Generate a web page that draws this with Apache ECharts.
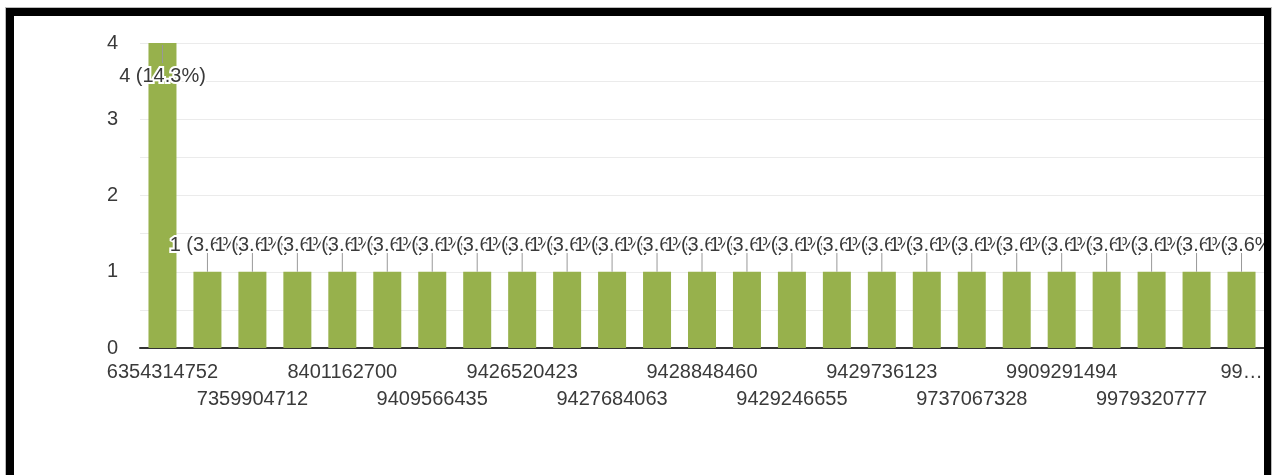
<!DOCTYPE html>
<html>
<head>
<meta charset="utf-8">
<script src="https://cdn.jsdelivr.net/npm/echarts@6/dist/echarts.min.js"></script>
<style>
  html, body { margin: 0; padding: 0; background: #fff; width: 1273px; height: 475px; overflow: hidden; }
  #frame {
    position: absolute; left: 6px; top: 8px; width: 1250px; height: 475px;
    border-left: 8px solid #000; border-top: 8px solid #000; border-right: 7px solid #000;
    box-shadow: -1px -1px 0 #bbb, 1px -1px 0 #bbb; background: #fff; overflow: hidden;
  }
  #chart { width: 1250px; height: 459px; }
</style>
</head>
<body>
<div id="frame"><div id="chart"></div></div>
<script>
// Category labels (only every other one is printed in the reference; hidden ones left blank)
const categories = [
  '6354314752', '', '7359904712', '', '8401162700', '', '9409566435', '',
  '9426520423', '', '9427684063', '', '9428848460', '', '9429246655', '',
  '9429736123', '', '9737067328', '', '9909291494', '', '9979320777', '',
  '99…'
];
// Response counts
const counts = [4, 1, 1, 1, 1, 1, 1, 1, 1, 1, 1, 1, 1, 1, 1, 1, 1, 1, 1, 1, 1, 1, 1, 1, 1];
// Y axis ticks
const yMin = 0, yMax = 4, yStep = 0.5;

const total = counts.reduce((a, b) => a + b, 0);
const labelTexts = counts.map(v => v + ' (' + (v / total * 100).toFixed(1) + '%)');

const FONT = '"Liberation Sans", Arial, sans-serif';
const chart = echarts.init(document.getElementById('chart'), null, { renderer: 'canvas' });

chart.setOption({
  animation: false,
  backgroundColor: '#fff',
  grid: { left: 126, top: 27, right: 0, bottom: 127, containLabel: false, outerBoundsMode: 'none' },
  xAxis: {
    type: 'category',
    data: categories,
    axisTick: { show: false },
    axisLine: { show: true, lineStyle: { color: '#333', width: 2 } },
    axisLabel: {
      interval: 0,
      margin: 11,
      fontSize: 20,
      lineHeight: 27,
      color: '#3a3a3a',
      fontFamily: FONT,
      formatter: (val, idx) => (idx % 4 === 2 ? '\n' + val : val)
    },
    splitLine: { show: false }
  },
  yAxis: {
    type: 'value',
    min: yMin, max: yMax, interval: yStep,
    axisLine: { show: false },
    axisTick: { show: false },
    axisLabel: {
      margin: 22, fontSize: 20, color: '#3a3a3a', fontFamily: FONT,
      formatter: v => (Number.isInteger(v) ? String(v) : '')
    },
    splitLine: { show: true, lineStyle: { color: '#ebebeb', width: 1 } }
  },
  series: [
    {
      type: 'bar',
      data: counts,
      barWidth: 28,
      itemStyle: { color: '#97b14c' },
      z: 2
    },
    {
      type: 'custom',
      z: 3,
      data: counts.map((v, i) => [i, v]),
      renderItem: function (params, api) {
        const i = api.value(0), v = api.value(1);
        const p = api.coord([i, v]);
        const inside = v >= yMax;
        const y1 = inside ? p[1] + 2 : p[1];
        const y2 = inside ? p[1] + 20 : p[1] - 20;
        const ty = inside ? p[1] + 33 : p[1] - 26;
        return {
          type: 'group',
          children: [
            { type: 'line', shape: { x1: p[0], y1: y1, x2: p[0], y2: y2 },
              style: { stroke: '#999', lineWidth: 1 } },
            { type: 'text',
              style: {
                text: labelTexts[params.dataIndex], x: p[0], y: ty,
                align: 'center', verticalAlign: 'middle',
                textAlign: 'center', textVerticalAlign: 'middle',
                font: '20px ' + FONT, fill: '#3a3a3a', stroke: '#fff', lineWidth: 4
              } }
          ]
        };
      }
    }
  ]
});
</script>
</body>
</html>
